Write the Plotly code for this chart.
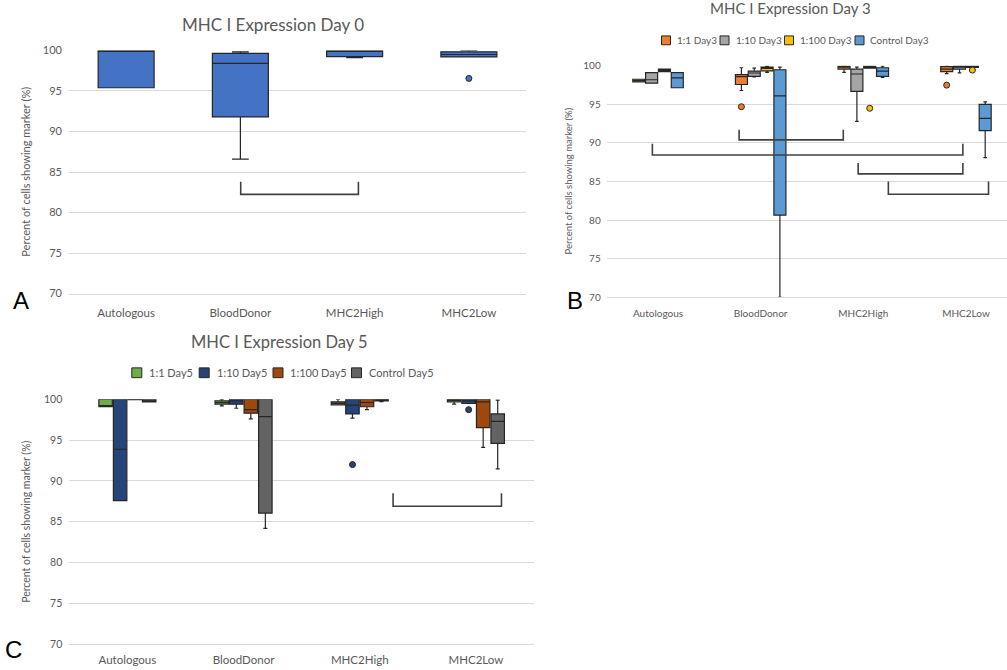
import plotly.graph_objects as go

W, H = 1007, 670

CATEGORIES = ["Autologous", "BloodDonor", "MHC2High", "MHC2Low"]
Y_TICKS = [70, 75, 80, 85, 90, 95, 100]

# ---- Day 0: one series per donor group -------------------------------------
d0_q1 = [95.4, 91.8, 99.23, 99.2]
d0_median = [100.0, 98.4, 99.9, 99.5]
d0_q3 = [100.0, 99.65, 100.0, 99.83]
d0_low = [95.4, 86.6, 99.1, 99.2]
d0_high = [100.0, 99.83, 100.0, 100.0]
d0_out_cat = [3]
d0_out_val = [96.55]

# ---- Day 3: four co-culture ratios -----------------------------------------
d3_names = ["1:1 Day3", "1:10 Day3", "1:100 Day3", "Control Day3"]
d3_q1 = [[97.92, 97.58, 99.58, 99.24],
         [97.75, 98.64, 96.7, 99.58],
         [99.24, 99.36, 99.7, 99.8],
         [97.16, 80.64, 98.64, 91.6]]
d3_median = [[98.1, 98.6, 99.83, 99.58],
             [98.2, 99.07, 98.94, 99.83],
             [99.4, 99.66, 99.83, 99.9],
             [98.43, 96.1, 99.32, 93.2]]
d3_q3 = [[98.26, 98.86, 99.96, 99.9],
         [99.11, 99.32, 99.58, 100.0],
         [99.58, 99.83, 99.96, 100.0],
         [99.11, 99.49, 99.75, 95.0]]
d3_low = [[97.92, 96.8, 99.15, 98.98],
          [97.75, 98.56, 92.8, 99.1],
          [99.24, 99.15, 99.7, 99.8],
          [97.16, 70.0, 98.5, 88.1]]
d3_high = [[98.26, 99.75, 100.0, 100.0],
           [99.11, 99.7, 99.83, 100.0],
           [99.58, 99.96, 100.0, 100.0],
           [99.11, 99.83, 99.96, 95.34]]
d3_out_series = [0, 2, 0, 2]
d3_out_cat = [1, 2, 3, 3]
d3_out_val = [94.7, 94.5, 97.5, 99.45]

# ---- Day 5 ---------------------------------------------------------------------
d5_names = ["1:1 Day5", "1:10 Day5", "1:100 Day5", "Control Day5"]
d5_q1 = [[99.1, 99.4, 99.32, 99.68],
         [87.6, 99.4, 98.2, 99.48],
         [99.95, 98.3, 99.08, 96.52],
         [99.68, 86.07, 99.8, 94.6]]
d5_median = [[99.1, 99.6, 99.5, 99.85],
             [93.88, 99.8, 99.28, 99.8],
             [100.0, 98.72, 99.6, 99.68],
             [99.8, 97.88, 99.9, 97.28]]
d5_q3 = [[100.0, 99.8, 99.68, 100.0],
         [100.0, 100.0, 100.0, 100.0],
         [100.0, 100.0, 100.0, 100.0],
         [100.0, 100.0, 100.0, 98.2]]
d5_low = [[99.1, 99.2, 99.32, 99.4],
          [87.6, 98.9, 97.7, 99.48],
          [99.95, 97.6, 98.72, 94.12],
          [99.68, 84.2, 99.7, 91.48]]
d5_high = [[100.0, 100.0, 100.0, 100.0],
           [100.0, 100.0, 100.0, 100.0],
           [100.0, 100.0, 100.0, 100.0],
           [100.0, 100.0, 100.0, 99.88]]
d5_out_series = [1, 1]
d5_out_cat = [2, 3]
d5_out_val = [92.0, 98.72]

# ---- significance brackets: (left, right, tip level, bar level) -----------------
d0_brackets = [(1.003, 2.033, 83.8, 82.25)]
d3_brackets = [(0.79, 1.805, 91.7, 90.4),
               (-0.055, 2.97, 89.9, 88.45),
               (1.95, 2.97, 87.4, 86.0),
               (2.244, 3.22, 85.0, 83.35)]
d5_brackets = [(2.287, 3.22, 88.5, 86.9)]

# ---- styling -----------------------------------------------------------------------
FONT = "Lato"
TXT = "#595959"
GRID = "#D9D9D9"
EDGE = "#262626"
BRACKET = "#404040"
D0_COLOR = "#4472C4"
D3_COLORS = ["#ED7D31", "#A5A5A5", "#FFC000", "#5B9BD5"]
D5_COLORS = ["#70AD47", "#264478", "#9E480E", "#636363"]


def px(x):
    return x / W


def py(y):
    return 1 - y / H


fig = go.Figure()


def add_boxes(xa, ya, q1, med, q3, lo, hi, colors, slot, width):
    n = len(q1)
    for k in range(n):
        off = (k - (n - 1) / 2) * slot
        xs = [i + off for i in range(len(CATEGORIES))]
        fig.add_trace(go.Box(
            x=xs, q1=q1[k], median=med[k], q3=q3[k],
            lowerfence=lo[k], upperfence=hi[k],
            width=width, fillcolor=colors[k],
            line=dict(color=EDGE, width=1.2), whiskerwidth=0.3,
            xaxis=xa, yaxis=ya, showlegend=False, hoverinfo="skip"))


def add_outliers(xa, ya, series, cats, vals, colors, slot, n):
    for s, c, v in zip(series, cats, vals):
        off = (s - (n - 1) / 2) * slot
        fig.add_trace(go.Scatter(
            x=[c + off], y=[v], mode="markers",
            marker=dict(color=colors[s], size=6, line=dict(color=EDGE, width=1)),
            xaxis=xa, yaxis=ya, showlegend=False, hoverinfo="skip"))


def add_brackets(xa, ya, brackets, lw):
    for x0, x1, tip, bar in brackets:
        fig.add_trace(go.Scatter(
            x=[x0, x0, x1, x1], y=[tip, bar, bar, tip], mode="lines",
            line=dict(color=BRACKET, width=lw),
            xaxis=xa, yaxis=ya, showlegend=False, hoverinfo="skip"))


# Panel A
add_boxes("x", "y", [d0_q1], [d0_median], [d0_q3], [d0_low], [d0_high],
          [D0_COLOR], 0, 0.49)
add_outliers("x", "y", [0] * len(d0_out_cat), d0_out_cat, d0_out_val, [D0_COLOR], 0, 1)
add_brackets("x", "y", d0_brackets, 1.6)

# Panel B
add_boxes("x2", "y2", d3_q1, d3_median, d3_q3, d3_low, d3_high, D3_COLORS, 0.125, 0.117)
add_outliers("x2", "y2", d3_out_series, d3_out_cat, d3_out_val, D3_COLORS, 0.125, 4)
add_brackets("x2", "y2", d3_brackets, 1.6)

# Panel C
add_boxes("x3", "y3", d5_q1, d5_median, d5_q3, d5_low, d5_high, D5_COLORS, 0.125, 0.116)
add_outliers("x3", "y3", d5_out_series, d5_out_cat, d5_out_val, D5_COLORS, 0.125, 4)
add_brackets("x3", "y3", d5_brackets, 1.6)


def xaxis_cfg(left, right, rng, size, standoff):
    return dict(domain=[px(left), px(right)], range=rng, tickvals=list(range(len(CATEGORIES))),
                ticktext=CATEGORIES, showgrid=False, zeroline=False, showline=True,
                linecolor=GRID, linewidth=1, ticks="", fixedrange=True,
                tickfont=dict(family=FONT, size=size, color=TXT), ticklabelstandoff=standoff)


def yaxis_cfg(top, bottom, xa, size, standoff):
    return dict(domain=[py(bottom), py(top)], range=[70, 100], tickvals=Y_TICKS,
                showgrid=True, gridcolor=GRID, gridwidth=1, zeroline=False, showline=False,
                ticks="", anchor=xa, fixedrange=True,
                tickfont=dict(family=FONT, size=size, color=TXT), ticklabelstandoff=standoff)


fig.update_layout(
    width=W, height=H, margin=dict(l=0, r=0, t=0, b=0),
    paper_bgcolor="white", plot_bgcolor="white", showlegend=False,
    boxmode="overlay",
    xaxis=xaxis_cfg(69, 526, [-0.5, 3.5], 11.5, 9),
    yaxis=yaxis_cfg(44.3, 292.3, "x", 11, 6),
    xaxis2=dict(xaxis_cfg(606.7, 1007, [-0.5, 3.40], 10, 7), anchor="y2"),
    yaxis2=yaxis_cfg(60, 296, "x2", 10, 5),
    xaxis3=dict(xaxis_cfg(69.3, 534, [-0.5, 3.5], 11.5, 5), anchor="y3"),
    yaxis3=yaxis_cfg(400, 650, "x3", 10.5, 6),
)
fig.layout.xaxis.anchor = "y"

ann = []


def text(x, y, s, size, color=TXT, family=FONT, angle=0, xanchor="center"):
    ann.append(dict(x=px(x), y=py(y), xref="paper", yref="paper", text=s, showarrow=False,
                    xanchor=xanchor, yanchor="middle", textangle=angle,
                    font=dict(family=family, size=size, color=color)))


# titles
text(273, 18, "MHC I Expression Day 0", 17)
text(790, 1, "MHC I Expression Day 3", 15)
text(279, 342, "MHC I Expression Day 5", 16.5)
# y-axis titles
YT = "Percent of cells showing marker (%)"
text(26, 168, YT, 11, angle=-90)
text(569, 178, YT, 9.5, angle=-90)
text(26, 525, YT, 10.5, angle=-90)
# panel letters
text(21, 299, "A", 24, color="black", family="Liberation Sans")
text(575, 299, "B", 24, color="black", family="Liberation Sans")
text(13, 655, "C", 24, color="black", family="Liberation Sans")

shapes = []


def legend(names, colors, sq_x, txt_x, y, sq, size):
    for name, col, sx, tx in zip(names, colors, sq_x, txt_x):
        shapes.append(dict(type="rect", xref="paper", yref="paper",
                           x0=px(sx - sq / 2), x1=px(sx + sq / 2),
                           y0=py(y + sq / 2), y1=py(y - sq / 2),
                           fillcolor=col, line=dict(color=EDGE, width=1)))
        text(tx, y, name, size, xanchor="left")


legend(d3_names, D3_COLORS, [666, 724.5, 789, 859.5], [675, 733.7, 797.7, 868.3], 34, 9, 10)
legend(d5_names, D5_COLORS, [136.8, 204.2, 278, 356.5], [147, 214.6, 288, 367], 373, 10, 11)

fig.update_layout(annotations=ann, shapes=shapes)

fig.write_html("out.html")
